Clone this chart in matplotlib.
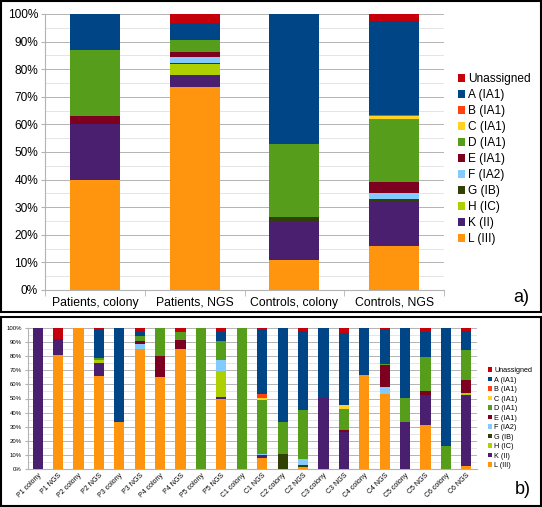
"""
Yersinia genotype composition: pooled groups (a) and per-subject bars (b)
"""

import matplotlib
matplotlib.use('Agg')
import matplotlib.pyplot as plt
from matplotlib.patches import Rectangle, Patch
from matplotlib.ticker import MultipleLocator, PercentFormatter
import numpy as np

plt.rcParams['font.family'] = ['Liberation Sans', 'DejaVu Sans']

# legend order (top to bottom) -> stacking is the reverse
labels = ['Unassigned', 'A (IA1)', 'B (IA1)', 'C (IA1)', 'D (IA1)', 'E (IA1)',
          'F (IA2)', 'G (IB)', 'H (IC)', 'K (II)', 'L (III)']
colors = ['#c5000b', '#004586', '#ff420e', '#ffd320', '#579d1c', '#7e0021',
          '#83caff', '#314004', '#aecf00', '#4b1f6f', '#ff950e']

# ---- panel a ----
cats_a = ['Patients, colony', 'Patients, NGS', 'Controls, colony', 'Controls, NGS']
U_a = [0, 3.4, 0, 2.4]
A_a = [13, 6.0, 47, 34.3]
B_a = [0, 0, 0, 0.3]
C_a = [0, 0, 0, 1.0]
D_a = [24, 4.3, 26.5, 22.8]
E_a = [3, 1.8, 0, 4.2]
F_a = [0, 2.2, 0, 2.0]
G_a = [0, 0.3, 1.5, 0.8]
H_a = [0, 4.0, 0, 0]
K_a = [20, 4.5, 14, 16.2]
L_a = [40, 73.5, 11, 16]

# ---- panel b ----
cats_b = ['P1 colony', 'P1 NGS', 'P2 colony', 'P2 NGS', 'P3 colony', 'P3 NGS',
          'P4 colony', 'P4 NGS', 'P5 colony', 'P5 NGS', 'C1 colony', 'C1 NGS',
          'C2 colony', 'C2 NGS', 'C3 colony', 'C3 NGS', 'C4 colony', 'C4 NGS',
          'C5 colony', 'C5 NGS', 'C6 colony', 'C6 NGS']
U_b = [0, 7.5, 0, 1.5, 0, 2.5, 0, 2.8, 0, 2.8, 0, 1.2, 0, 2.4, 0, 3.5, 0, 1.2, 0, 2.8, 0, 1.9]
A_b = [0, 0, 0, 20, 67, 3.5, 0, 0, 0, 6.7, 0, 45.8, 66.9, 55.5, 49.9, 50.9, 33.6, 24.1, 49.6, 17.8, 83.7, 13.5]
B_b = [0, 0, 0, 0, 0, 0, 0, 0, 0, 0, 0, 2.6, 0, 0, 0, 0, 0, 0, 0, 0, 0, 0]
C_b = [0, 0, 0, 0, 0, 0, 0, 0, 0, 0, 0, 1.2, 0, 0, 0, 2.8, 0, 0, 0, 0, 0, 0]
D_b = [0, 0, 0, 1.5, 0, 3.0, 20.1, 5.7, 100, 13.4, 100, 38.6, 22.5, 35.0, 0, 15.1, 0, 0.9, 17.3, 24.1, 16.3, 21.5]
E_b = [0, 0, 0, 0, 0, 2.5, 14.9, 6.2, 0, 0, 0, 0, 0, 0, 0, 1.7, 0, 15.4, 0, 2.6, 0, 9.0]
F_b = [0, 0, 0, 0, 0, 3.5, 0, 0, 0, 7.8, 0, 0.9, 0, 4.3, 0, 0, 0, 5.2, 0, 0, 0, 0]
G_b = [0, 0, 0, 0, 0, 0, 0, 0, 0, 0, 0, 0, 10.6, 1.6, 0, 0, 0, 0, 0, 0, 0, 0]
H_b = [0, 0, 0, 1.5, 0, 0, 0, 0, 0, 18.2, 0, 0, 0, 0, 0, 0, 0, 0, 0, 0, 0, 1.9]
K_b = [100, 11.5, 0, 9.5, 0, 0, 0, 0, 0, 1.5, 0, 1.9, 0, 0, 50.1, 26, 0, 0, 33.1, 21.3, 0, 50.1]
L_b = [0, 81, 100, 66, 33, 85, 65, 85.3, 0, 49.6, 0, 7.8, 0, 1.2, 0, 0, 66.4, 53.2, 0, 31.4, 0, 2.1]

GRID = '#b3b3b3'


def stacked(ax, cats, series, fs_tick, rot=0):
    """draw the stacked 100% bars, bottom series first"""
    x = np.arange(len(cats))
    bottom = np.zeros(len(cats))
    # series given in legend order, stack from the last one (L) upward
    for vals, col in zip(series[::-1], colors[::-1]):
        vals = np.array(vals, dtype=float)
        ax.bar(x, vals, bottom=bottom, width=0.5, color=col, linewidth=0, zorder=3)
        bottom += vals

    ax.set_xlim(-0.5, len(cats) - 0.5)
    ax.set_ylim(0, 100)
    ax.yaxis.set_major_locator(MultipleLocator(10))
    ax.yaxis.set_minor_locator(MultipleLocator(5))
    ax.yaxis.set_major_formatter(PercentFormatter(decimals=0))
    ax.grid(axis='y', which='major', color=GRID, lw=0.7, zorder=0)
    ax.grid(axis='y', which='minor', color='#e0e0e0', lw=0.6, zorder=0)
    for s in ['top', 'right']:
        ax.spines[s].set_visible(False)
    for s in ['left', 'bottom']:
        ax.spines[s].set_color(GRID)
        ax.spines[s].set_linewidth(0.8)
    ax.tick_params(axis='y', which='major', length=3, color=GRID, labelsize=fs_tick, pad=2)
    ax.tick_params(axis='y', which='minor', length=0)

    ax.set_xticks(x)
    ax.set_xticks(np.arange(len(cats) + 1) - 0.5, minor=True)
    ax.tick_params(axis='x', which='major', length=0, labelsize=fs_tick)
    ax.tick_params(axis='x', which='minor', length=4, color=GRID)
    if rot:
        ax.set_xticklabels(cats, rotation=rot, ha='right', rotation_mode='anchor')
    else:
        ax.set_xticklabels(cats)


fig = plt.figure(figsize=(5.42, 5.07), dpi=100)
W, H = 542.0, 507.0

# panel frames
fig.patches.append(Rectangle((1 / W, 1 - 312 / H), 540 / W, 311 / H, transform=fig.transFigure,
                             fill=False, edgecolor='black', lw=1.5))
fig.patches.append(Rectangle((1 / W, 1 - 506 / H), 540 / W, 189 / H, transform=fig.transFigure,
                             fill=False, edgecolor='black', lw=1.5))

handles = [Patch(facecolor=c, edgecolor='none') for c in colors]

# panel a
ax_a = fig.add_axes([45 / W, 1 - 290 / H, 399 / W, 276 / H])
stacked(ax_a, cats_a, [U_a, A_a, B_a, C_a, D_a, E_a, F_a, G_a, H_a, K_a, L_a], 8.6)
ax_a.tick_params(axis='x', which='major', pad=5, labelsize=8.8)
fig.legend(handles, labels, loc='upper left', bbox_to_anchor=(458 / W, 1 - 73 / H),
           frameon=False, fontsize=8.6, handlelength=0.6, handleheight=0.6,
           handletextpad=0.25, labelspacing=0.335, borderpad=0, borderaxespad=0)
fig.text(521 / W, 1 - 298 / H, 'a)', fontsize=13, ha='center', va='center')

# panel b
ax_b = fig.add_axes([27.5 / W, 1 - 469 / H, 449 / W, 141 / H])
stacked(ax_b, cats_b, [U_b, A_b, B_b, C_b, D_b, E_b, F_b, G_b, H_b, K_b, L_b], 4.3, rot=45)
ax_b.tick_params(axis='x', which='major', labelsize=5, pad=2)
ax_b.tick_params(axis='x', which='minor', length=0)
ax_b.tick_params(axis='y', which='major', length=2)
fig.legend(handles, labels, loc='upper left', bbox_to_anchor=(488 / W, 1 - 367 / H),
           frameon=False, fontsize=5.2, handlelength=0.6, handleheight=0.6,
           handletextpad=0.3, labelspacing=0.35, borderpad=0, borderaxespad=0)
fig.text(523 / W, 1 - 490 / H, 'b)', fontsize=13, ha='center', va='center')

fig.savefig('out.png', dpi=100)
